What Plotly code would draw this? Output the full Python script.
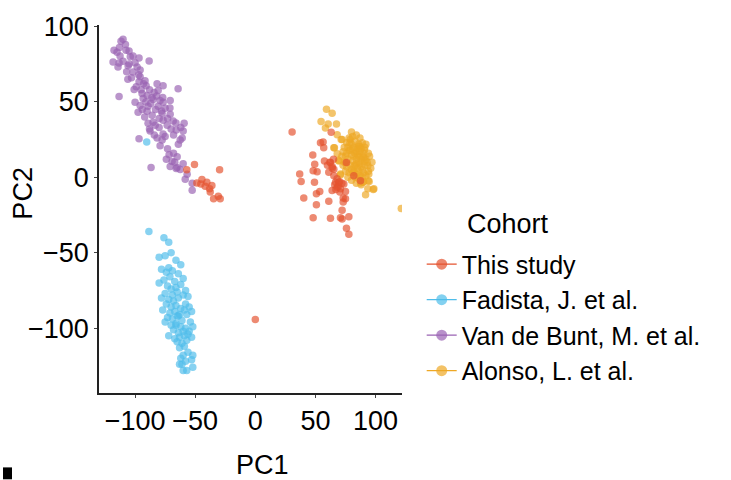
import plotly.graph_objects as go

# ---- Data ----
cohorts = ["This study", "Fadista, J. et al.", "Van de Bunt, M. et al.", "Alonso, L. et al."]
colors = ["#E4532F", "#4FBDEA", "#9A63B3", "#EEA825"]

vdb_x = [-110, -111.7, -117.5, -107.5, -105, -112.5, -101.7, -118.3, -113.3, -105, -96.7, -88.3, -114.2,
         -105.8, -98.3, -95.8, -101.7, -95.8, -96.7, -91.7, -90.8, -81.7, -76.7, -64.2, -100.8, -94.2, -90,
         -84.2, -80.8, -113.3, -93.3, -85, -79.2, -76.7, -70.8, -100, -95.8, -89.2, -80.8, -75, -97.5, -90,
         -85.8, -77.5, -70.8, -89.2, -85, -76.7, -68.3, -59.2, -83.3, -73.3, -65.8, -60, -87.5, -76.7, -81.7,
         -77.5, -60.8, -62.5, -96.7, -79.2, -71.7, -65, -86.7, -69.2, -70.8, -65, -62.5, -56.7, -58.3, -52.5,
         -52.5, -65.8,
         -108, -113, -104, -110, -100, -107, -97, -103, -93, -99, -88, -95, -86, -82, -91, -87, -77, -83, -78,
         -92, -80, -73, -88, -80, -70, -66, -84, -75, -68, -64, -73, -68, -60, -67, -74, -115, -106, -94, -71, -62]
vdb_y = [91.5, 90.2, 84.3, 84.3, 83.7, 80.4, 80.4, 76.5, 75.8, 75.2, 79.1, 77.1, 73.2, 73.9, 73.2, 71.2, 69.9,
         66.7, 63.4, 64.1, 60.8, 62.1, 60.8, 58.8, 58.2, 55.6, 54.2, 56.2, 57.5, 53.6, 52.3, 51.6, 51, 49.7, 51,
         49.7, 47.7, 47.1, 47.1, 45.8, 43.1, 43.8, 41.2, 42.5, 41.8, 35.9, 36.6, 37.9, 37.3, 35.9, 34.6, 34.6,
         31.4, 30.7, 30.7, 28.8, 26.1, 24.8, 26.1, 24.8, 25.5, 20.9, 15, 13.7, 6.5, 10.5, 7.2, 6.5, 5.2, 2, -1.3,
         -3.9, -8.5, 5.9,
         88, 86, 80, 77, 76, 70, 68, 66, 62, 60, 58, 58, 53, 54, 50, 49, 53, 45, 44, 40, 39, 39, 32, 33, 32, 36,
         28, 27, 28, 22, 19, 16, 9, 10, 12, 83, 65, 45, 46, 33]

fad_x = [-90.3, -88.5, -76, -72, -75, -80, -70, -66, -62, -72, -78, -74, -69, -64, -60, -76, -71, -67, -80,
         -73, -70, -66, -62, -58, -75, -69, -65, -78, -72, -68, -64, -60, -56, -74, -70, -66, -62, -58, -77,
         -71, -67, -63, -59, -55, -73, -69, -65, -61, -57, -53, -75, -70, -66, -62, -58, -54, -68, -64, -60,
         -56, -52, -72, -67, -63, -59, -55, -65, -61, -57, -53, -63, -59, -60, -56, -62, -58, -52, -63, -61,
         -53, -52, -60, -57, -66, -64]
fad_y = [23.5, -36, -40, -43, -52, -53, -50, -55, -58, -60, -61, -63, -62, -64, -67, -68, -66, -69, -70, -72,
         -74, -73, -71, -75, -77, -78, -76, -80, -81, -82, -80, -78, -79, -84, -86, -85, -87, -84, -88, -90,
         -89, -91, -88, -86, -93, -94, -92, -95, -91, -89, -96, -98, -97, -99, -100, -96, -101, -103, -102,
         -104, -99, -105, -107, -106, -105, -102, -109, -110, -108, -106, -113, -112, -118, -116, -120, -122,
         -118, -124, -124, -121, -126, -128, -128, -98, -92]

ths_x = [-57, -50.6, -29.7, -48.6, -44.4, -40.3, -41.7, -38, -37.5, -34.7, -29.2, -45.3, -36.1, -30.8, 0,
         30.6, 54.2, 56.4, 63.1, 56.9, 47.8, 36.9, 38.1, 40.3, 48.1, 50.8, 53.6, 49.4, 51.4, 48.1, 49.2, 57.5,
         61.1, 63.9, 65.3, 62.5, 61.1, 70.8, 75.8, 77.8, 72.2, 73.1, 75, 77.8, 68.1, 70.8, 66.7, 73.6, 63.9, 75,
         62.5, 65.3, 81.9, 75.8, 87.5, 73.1, 70.3, 69.4, 50.8, 72.2, 66, 69, 72, 67, 70, 64, 62, 65, 60, 68]
ths_y = [5, 8.5, 5, -3.7, -1.5, -3.3, -5.9, -7.6, -9.8, -14.2, -14.2, -4.4, -5.4, -12.5, -94.3,
         30.1, 22.9, 23.5, 29.9, 19.6, 14.8, 2.2, -2.8, -13.7, -26.8, -18.1, -9.4, 8.7, 3.7, 4.4, -3.3, 10.9,
         3.3, 7.2, 1.1, -27.2, -15.9, -26.8, -33.8, -37.7, -21.8, -16.3, -14.2, -26.1, -6.5, -7.6, -3.3, -4.4,
         -8.7, -9.4, 9.8, 5.4, 1.1, 9.8, -2.2, -13.7, -9.8, -3.3, -10.9, -27.7, -5, -6, -4, -8, -3, 6, 10, 12,
         8, -1]

alo_x = [59.2, 63.9, 54.7, 60.6, 67.5, 58.3, 68.1, 72.2, 78.6, 86.1, 90.8, 65.3, 68.1, 69.4, 75, 91.7, 93.6,
         98.1, 87.5, 94.7, 70.8, 121.4, 71.4, 86.9, 65.8, 69.4, 70.8, 90.3, 93.6, 94.4, 93.9, 89.7, 98.6,
         78, 80, 82, 84, 86, 88, 81, 83, 85, 87, 89, 79, 77, 76, 80, 83, 86, 88, 90, 92, 91, 90, 87, 84, 82, 80,
         78, 76, 74, 75, 73, 77, 79, 81, 84, 86, 88, 85, 82, 79, 81, 83, 86, 89, 92, 94, 93, 95, 91, 89, 87, 84,
         80, 78, 76, 74, 72, 73, 75, 77, 80, 84, 88, 90, 96, 97, 94, 92, 85, 83, 81, 87, 89, 91, 86, 84, 82]
alo_y = [45.1, 42.5, 37, 35.3, 35.3, 32.7, 28.3, 25, 22.9, 20.7, 18.1, 19.6, 15.7, 11.3, 9.8, -11.6, -7.6,
         -8, -3.7, -2.8, 1.5, -20.7, 25, 20.3, 19.6, 10.9, 2.2, 13.1, 7.6, 2.2, -2.2, -3.3, -7.6,
         18, 15, 20, 17, 14, 12, 11, 8, 6, 9, 5, 8, 12, 16, 22, 24, 22, 19, 16, 12, 8, 3, 1, 2, 4, 5, 3, 7,
         10, 14, 17, 20, 25, 27, 12, 10, 7, 15, 14, 18, 3, 0, -1, 0, 1, 4, 10, 14, 20, 23, 26, 28, 30, 26, 23,
         20, 14, 8, 4, 0, -2, -4, -5, -3, 6, 10, 16, 22, 19, 16, 19, 17, 14, 11, 4, 9, 7]

series_x = [ths_x, fad_x, vdb_x, alo_x]
series_y = [ths_y, fad_y, vdb_y, alo_y]

x_ticks = [-100, -50, 0, 50, 100]
x_ticktext = ["\u2212100", "\u221250", "0", "50", "100"]
y_ticks = [-100, -50, 0, 50, 100]
y_ticktext = ["\u2212100", "\u221250", "0", "50", "100"]

FONT = "Liberation Sans, Arial, Helvetica, sans-serif"

fig = go.Figure()
# draw order: Van de Bunt, Fadista, Alonso, This study on top
for i in [2, 1, 3, 0]:
    fig.add_trace(go.Scatter(
        x=series_x[i], y=series_y[i], mode="markers", showlegend=False,
        marker=dict(size=7.5, color=colors[i], opacity=0.68, line=dict(width=0)),
        hoverinfo="skip"))

# legend entries (point + line glyph)
for i in range(4):
    fig.add_trace(go.Scatter(
        x=[None], y=[None], mode="lines+markers", name=cohorts[i],
        marker=dict(size=11, color=colors[i], opacity=0.7, line=dict(width=0)),
        line=dict(color=colors[i], width=1.2)))

fig.update_layout(
    width=731, height=480,
    margin=dict(l=99, r=329, t=22, b=87, pad=0),
    paper_bgcolor="white", plot_bgcolor="white",
    font=dict(family=FONT, size=27, color="black"),
    showlegend=True,
    legend=dict(x=1.065, xanchor="left", y=0.412, yanchor="top",
                font=dict(size=25), itemsizing="trace", tracegroupgap=0,
                bgcolor="rgba(0,0,0,0)"),
    xaxis=dict(range=[-130, 122], tickvals=x_ticks, ticktext=x_ticktext,
               showgrid=False, zeroline=False, showline=True, linecolor="#222",
               linewidth=1.5, ticks="outside", ticklen=3, tickwidth=1, tickcolor="#444",
               tickfont=dict(size=27)),
    yaxis=dict(range=[-143, 101], tickvals=y_ticks, ticktext=y_ticktext,
               showgrid=False, zeroline=False, showline=True, linecolor="#222",
               linewidth=1.5, ticks="outside", ticklen=3, tickwidth=1, tickcolor="#444",
               tickfont=dict(size=27)),
    annotations=[
        dict(text="PC1", xref="paper", yref="paper", x=(262 - 99) / 303, y=(393 - 466) / 371,
             xanchor="center", yanchor="middle", showarrow=False, font=dict(size=27)),
        dict(text="PC2", xref="paper", yref="paper", x=(23 - 99) / 303, y=(393 - 192) / 371,
             xanchor="center", yanchor="middle", showarrow=False, textangle=-90, font=dict(size=27)),
        dict(text="Cohort", xref="paper", yref="paper", x=(465 - 99) / 303, y=(393 - 223) / 371,
             xanchor="left", yanchor="middle", showarrow=False, font=dict(size=27)),
    ],
    shapes=[dict(type="rect", xref="paper", yref="paper",
                 x0=(3 - 99) / 303, x1=(12 - 99) / 303, y0=(393 - 468) / 371, y1=(393 - 480) / 371,
                 fillcolor="black", line=dict(width=0))],
)

fig.write_html("out.html")
